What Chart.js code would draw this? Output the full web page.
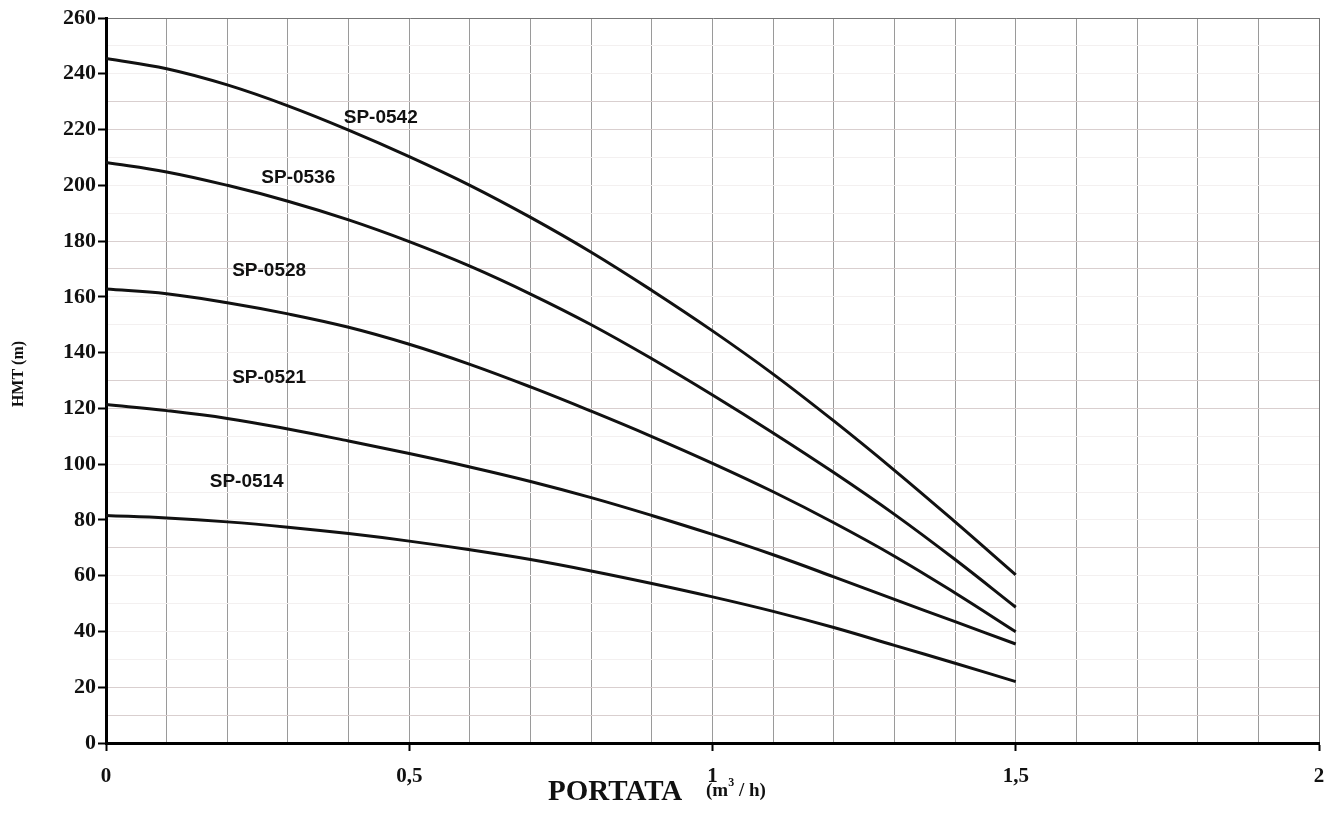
<!DOCTYPE html>
<html>
<head>
<meta charset="utf-8">
<script src="https://cdn.jsdelivr.net/npm/chart.js@4.4.0/dist/chart.umd.min.js"></script>
<style>
  html, body { margin: 0; padding: 0; background: #fff; }
  #wrap { width: 1338px; height: 830px; }
</style>
</head>
<body>
<div id="wrap"><canvas id="chart" width="1338" height="830"></canvas></div>
<script>
// portata (m3/h) sampled every 0.1
const flow = [0, 0.1, 0.2, 0.3, 0.4, 0.5, 0.6, 0.7, 0.8, 0.9, 1.0, 1.1, 1.2, 1.3, 1.4, 1.5];

// HMT (m)
const sp0542 = [245.5, 241.8, 236, 228.5, 219.8, 210.3, 200, 188.5, 176, 162.3, 147.8, 132.3, 115.5, 97.8, 79.3, 60.3];
const sp0536 = [208.2, 204.8, 200, 194.3, 187.6, 179.8, 171, 161, 150, 137.8, 124.8, 111.2, 97, 82, 65.8, 48.7];
const sp0528 = [162.8, 161.1, 157.9, 153.9, 149.1, 143, 135.8, 127.7, 119, 109.9, 100.3, 90.1, 79, 67, 53.8, 39.9];
const sp0521 = [121.4, 119.2, 116.4, 112.6, 108.3, 103.8, 99, 93.8, 88, 81.6, 74.8, 67.5, 59.6, 51.5, 43.5, 35.5];
const sp0514 = [81.6, 80.7, 79.3, 77.4, 75.1, 72.4, 69.3, 65.8, 61.7, 57.2, 52.4, 47.2, 41.4, 35, 28.6, 22];

const seriesNames = ['SP-0542', 'SP-0536', 'SP-0528', 'SP-0521', 'SP-0514'];
const seriesValues = [sp0542, sp0536, sp0528, sp0521, sp0514];

// where each model name sits (data units)
const nameX = [0.453, 0.317, 0.269, 0.269, 0.232];
const nameY = [224.4, 202.8, 169.4, 131.1, 93.7];

const xTickLabels = { 0: '0', 5: '0,5', 10: '1', 15: '1,5', 20: '2' };
// horizontal grid lines that show up darker on the sheet
const darkRows = [10, 20, 70, 120, 130, 170, 180, 220, 230];

const SERIF = '"Liberation Serif", "Times New Roman", serif';
const SANS = '"Liberation Sans", Arial, sans-serif';

const datasets = seriesValues.map((vals, i) => ({
  label: seriesNames[i],
  data: flow.map((x, j) => ({ x: x, y: vals[j] })),
  borderColor: '#111',
  borderWidth: 3,
  pointRadius: 0,
  tension: 0.4,
  fill: false
}));

const textPlugin = {
  id: 'texts',
  afterDatasetsDraw(chart) {
    const ctx = chart.ctx;
    const xs = chart.scales.x, ys = chart.scales.y;
    ctx.save();
    ctx.fillStyle = '#111';
    ctx.font = 'bold 19px ' + SANS;
    ctx.textAlign = 'center';
    ctx.textBaseline = 'middle';
    seriesNames.forEach((n, i) => {
      ctx.fillText(n, xs.getPixelForValue(nameX[i]), ys.getPixelForValue(nameY[i]));
    });

    // y title
    ctx.save();
    ctx.translate(19, 374);
    ctx.rotate(-Math.PI / 2);
    ctx.font = 'bold 16px ' + SERIF;
    ctx.fillText('HMT (m)', 0, 0);
    ctx.restore();

    // x title
    ctx.textAlign = 'left';
    ctx.textBaseline = 'alphabetic';
    ctx.font = 'bold 29px ' + SERIF;
    ctx.fillText('PORTATA', 548, 800);
    ctx.font = 'bold 19px ' + SERIF;
    let px = 706;
    ctx.fillText('(m', px, 796);
    px += ctx.measureText('(m').width;
    ctx.font = 'bold 12px ' + SERIF;
    ctx.fillText('3', px, 786);
    px += ctx.measureText('3').width;
    ctx.font = 'bold 19px ' + SERIF;
    ctx.fillText(' / h)', px, 796);
    ctx.restore();
  }
};

new Chart(document.getElementById('chart').getContext('2d'), {
  type: 'line',
  data: { datasets },
  options: {
    responsive: false,
    animation: false,
    layout: { padding: { left: 0, right: 19, top: 18, bottom: 0 } },
    plugins: { legend: { display: false }, tooltip: { enabled: false } },
    scales: {
      x: {
        type: 'linear',
        min: 0, max: 2,
        afterFit(s) { s.height = 87; },
        border: { display: true, color: '#000', width: 3 },
        grid: {
          color: (c) => (c.tick && Math.round(c.tick.value * 10) === 20) ? '#777' : '#9a9a9a',
          lineWidth: 1,
          tickLength: 8,
          tickWidth: 2,
          tickColor: (c) => (c.tick && Math.round(c.tick.value * 10) % 5 === 0) ? '#000' : 'rgba(0,0,0,0)'
        },
        ticks: {
          stepSize: 0.1,
          autoSkip: false,
          maxRotation: 0,
          padding: 13,
          color: '#111',
          font: { family: SERIF, size: 21, weight: 'bold' },
          callback: (v) => {
            const t = Math.round(v * 10);
            return xTickLabels[t] !== undefined ? xTickLabels[t] : '';
          }
        }
      },
      y: {
        min: 0, max: 260,
        afterFit(s) { s.width = 106; },
        border: { display: true, color: '#000', width: 3 },
        grid: {
          color: (c) => {
            const v = c.tick ? Math.round(c.tick.value) : 0;
            if (v === 260) return '#777';
            return darkRows.includes(v) ? '#d9cfcf' : '#f3f0f0';
          },
          lineWidth: 1,
          tickLength: 8,
          tickWidth: 2,
          tickColor: (c) => (c.tick && Math.round(c.tick.value) % 20 === 0) ? '#000' : 'rgba(0,0,0,0)'
        },
        ticks: {
          stepSize: 10,
          autoSkip: false,
          padding: 2,
          color: '#111',
          font: { family: SERIF, size: 22, weight: 'bold' },
          callback: (v) => (Math.round(v) % 20 === 0 ? String(v) : '')
        }
      }
    }
  },
  plugins: [textPlugin]
});
</script>
</body>
</html>
